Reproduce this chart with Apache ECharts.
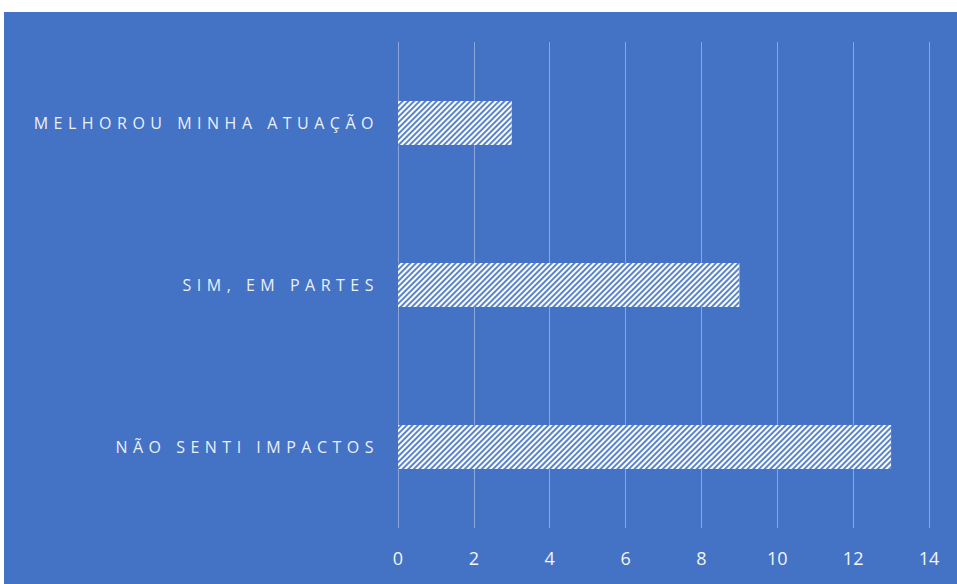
<!DOCTYPE html>
<html>
<head>
<meta charset="utf-8">
<script src="https://cdn.jsdelivr.net/npm/echarts@6/dist/echarts.min.js"></script>
<style>
  html, body { margin: 0; padding: 0; background: #ffffff; }
  #chart { position: absolute; left: 4px; top: 12px; width: 953px; height: 572px; }
  #chart text[text-anchor="end"] { letter-spacing: 5.5px; }
</style>
</head>
<body>
<div id="chart"></div>
<script>
// Categories listed bottom-to-top, as the category axis draws them
const categories = ['NÃO SENTI IMPACTOS', 'SIM, EM PARTES', 'MELHOROU MINHA ATUAÇÃO'];
const values = [13, 9, 3];
const xTicks = { min: 0, max: 14, interval: 2 };

const chart = echarts.init(document.getElementById('chart'), null, { renderer: 'svg' });
chart.setOption({
  backgroundColor: '#4472C4',
  animation: false,
  grid: { left: 394, top: 30, width: 531, height: 486 },
  xAxis: {
    type: 'value',
    min: xTicks.min, max: xTicks.max, interval: xTicks.interval,
    axisLine: { show: false },
    axisTick: { show: false },
    splitLine: { show: true, lineStyle: { color: 'rgba(255,255,255,0.38)', width: 1 } },
    axisLabel: { color: '#f2f5fb', fontSize: 18, fontFamily: 'Open Sans', margin: 21 }
  },
  yAxis: {
    type: 'category',
    data: categories,
    axisLine: { show: false },
    axisTick: { show: false },
    axisLabel: { color: '#eaf0f9', fontSize: 16, fontFamily: 'Open Sans', margin: 19 }
  },
  series: [{
    type: 'bar',
    data: values,
    barWidth: 44,
    itemStyle: {
      color: '#ffffff',
      decal: {
        symbol: 'rect',
        symbolSize: 1,
        dashArrayX: [1, 0],
        dashArrayY: [1.5, 2],
        rotation: -Math.PI / 4,
        color: '#5a84cc'
      }
    }
  }]
});
</script>
</body>
</html>
